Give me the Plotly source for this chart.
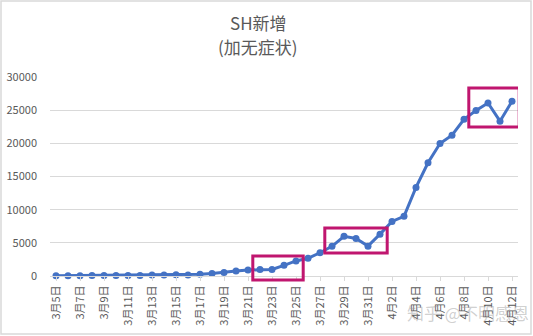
import plotly.graph_objects as go

# Daily new cases in Shanghai (confirmed + asymptomatic), 5 Mar – 12 Apr
dates = (
    [f"3月{d}日" for d in range(5, 32)]
    + [f"4月{d}日" for d in range(1, 13)]
)
new_cases = [
    28, 48, 55, 65, 80, 75, 83, 65, 169, 139,
    202, 158, 260, 374, 509, 758, 896, 981, 983, 1609,
    2269, 2676, 3500, 4477, 5982, 5653, 4502, 6311, 8226, 9006,
    13354, 17077, 19982, 21222, 23624, 24943, 26087, 23342, 26330,
]
y_ticks = [0, 5000, 10000, 15000, 20000, 25000, 30000]
title_lines = ["SH新增", "(加无症状)"]

# highlighted stretches: (first date, last date, low value, high value)
highlights = [
    ("3月22日", "3月25日", -600, 3000),
    ("3月28日", "4月1日", 3470, 7240),
    ("4月9日", "4月12日", 22460, 28340),
]

W, H = 533, 336
L, R, T, B = 50, 15, 77, 60
Y_MAX = 30000
pw, ph = W - L - R, H - T - B


def px_x(p):
    return (p - L) / pw


def px_y(p):
    return (H - B - p) / ph


fig = go.Figure()
fig.add_trace(go.Scatter(
    x=dates, y=new_cases, mode="lines+markers",
    line=dict(color="#4472C4", width=3),
    marker=dict(color="#4472C4", size=7),
    cliponaxis=False, showlegend=False,
))

for first, last, lo, hi in highlights:
    i0, i1 = dates.index(first), dates.index(last)
    fig.add_shape(
        type="rect", xref="x", yref="y domain",
        x0=i0 - 0.6, x1=i1 + 0.6, y0=lo / Y_MAX, y1=hi / Y_MAX,
        line=dict(color="#C0166F", width=3), layer="above",
    )

# thin frame around the whole chart
fig.add_shape(
    type="rect", xref="paper", yref="paper",
    x0=px_x(1), x1=px_x(W - 2), y0=px_y(H - 2), y1=px_y(1),
    line=dict(color="#D9D9D9", width=1.5),
)

# two-line chart title
for text, py in zip(title_lines, [22, 46]):
    fig.add_annotation(
        text=text, xref="paper", yref="paper", x=px_x(258), y=px_y(py),
        xanchor="center", yanchor="middle", showarrow=False,
        font=dict(size=17, color="#595959"),
    )

fig.add_annotation(
    text="知乎 @不明感恩", xref="paper", yref="paper",
    x=px_x(468), y=px_y(312), xanchor="center", yanchor="middle",
    showarrow=False, font=dict(size=17, color="rgba(150,150,150,0.45)"),
)

fig.update_layout(
    width=W, height=H,
    margin=dict(l=L, r=R, t=T, b=B, autoexpand=False),
    paper_bgcolor="white", plot_bgcolor="white",
    font=dict(family="Noto Sans CJK SC, Noto Sans, sans-serif", color="#595959"),
    xaxis=dict(
        type="category", range=[-0.5, len(dates) - 0.5],
        tickmode="array", tickvals=dates[::2], ticktext=dates[::2],
        tickangle=-90, tickfont=dict(size=11, color="#595959"),
        showgrid=False, showline=True, linecolor="#D9D9D9", linewidth=1,
        ticks="outside", ticklen=4, tickcolor="#D9D9D9",
        zeroline=False, fixedrange=True, automargin=False,
    ),
    yaxis=dict(
        range=[0, Y_MAX], tickmode="array", tickvals=y_ticks,
        ticktext=[str(v) for v in y_ticks],
        tickfont=dict(size=11, color="#595959"),
        showgrid=True, gridcolor="#D9D9D9", gridwidth=1,
        zeroline=False, showline=False, ticks="", ticklabelstandoff=12,
        automargin=False,
    ),
)

fig.write_html("out.html")
